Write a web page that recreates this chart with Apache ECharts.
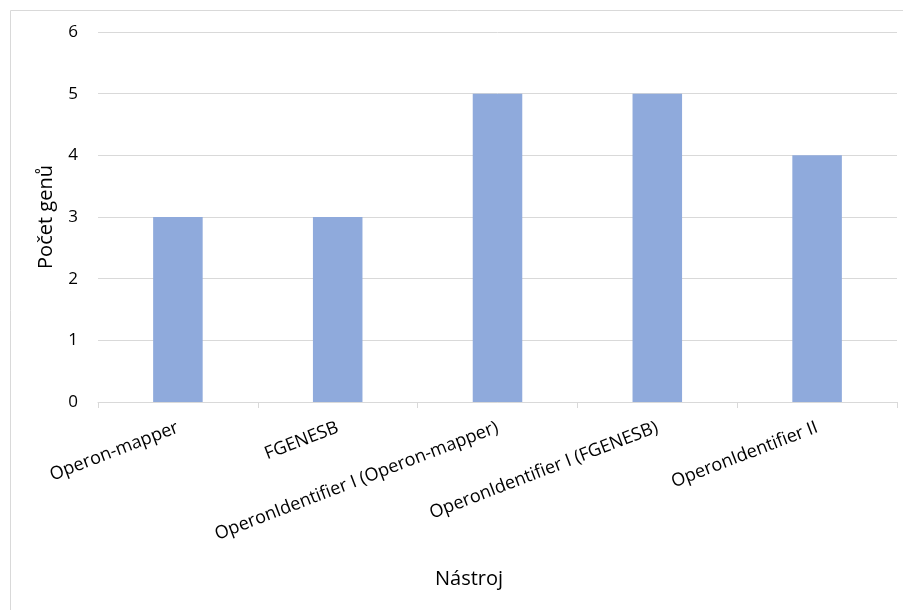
<!DOCTYPE html>
<html><head><meta charset="utf-8">
<script src="https://cdn.jsdelivr.net/npm/echarts@6/dist/echarts.min.js"></script>
<style>html,body{margin:0;padding:0;background:#fff}#c{width:903px;height:610px}</style>
</head><body><div id="c"></div>
<script>
const categories = ["Operon-mapper", "FGENESB", "OperonIdentifier I (Operon-mapper)", "OperonIdentifier I (FGENESB)", "OperonIdentifier II"];
const values = [3, 3, 5, 5, 4];
const xTitle = "Nástroj";
const yTitle = "Počet genů";
const FONT = "'Open Sans', sans-serif";
const chart = echarts.init(document.getElementById('c'));
chart.setOption({
  animation: false,
  graphic: [{type: 'rect', shape: {x: 10.5, y: 10.5, width: 920, height: 640}, style: {fill: 'none', stroke: '#d9d9d9', lineWidth: 1}}],
  title: {text: xTitle, left: 464, top: 564, textAlign: 'center',
    textStyle: {fontFamily: FONT, fontSize: 20, fontWeight: 'normal', color: '#000'}},
  grid: {left: 98, right: 6, top: 32, bottom: 208, containLabel: false},
  xAxis: {
    type: 'category', data: categories,
    axisLine: {lineStyle: {color: '#d9d9d9', width: 1}},
    axisTick: {show: true, length: 6, lineStyle: {color: '#d9d9d9'}},
    axisLabel: {rotate: 21, interval: 0, fontFamily: FONT, fontSize: 18, color: '#000', margin: 25}
  },
  yAxis: {
    type: 'value', min: 0, max: 6, interval: 1,
    name: yTitle, nameLocation: 'middle', nameGap: 42,
    nameTextStyle: {fontFamily: FONT, fontSize: 20, color: '#000'},
    axisLine: {show: false}, axisTick: {show: false},
    splitLine: {lineStyle: {color: '#d9d9d9', width: 1}},
    axisLabel: {fontFamily: FONT, fontSize: 17, color: '#000', margin: 20}
  },
  series: [{type: 'bar', data: values, barWidth: '31%', itemStyle: {color: '#8faadc'}}]
});
</script></body></html>
